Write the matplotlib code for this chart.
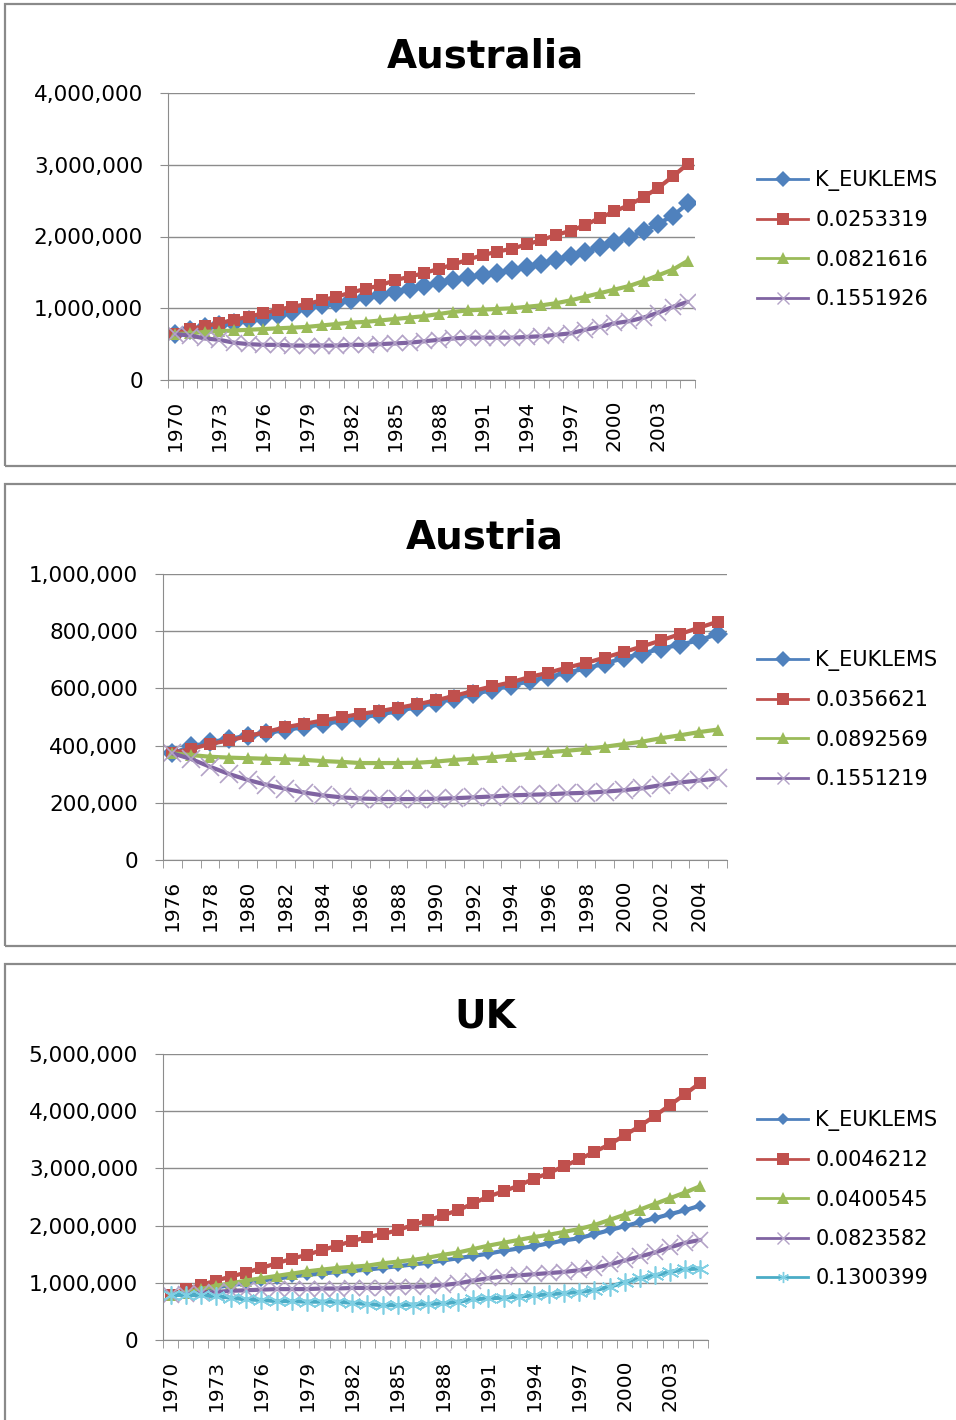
import numpy as np
import matplotlib
matplotlib.use('Agg')
import matplotlib.pyplot as plt
from matplotlib.patches import Rectangle
from matplotlib.lines import Line2D
from matplotlib.ticker import FuncFormatter

W, H = 956, 1420

# ---- data (thousands) ----
aus_years = list(range(1970, 2006))
aus_k_euklems = [640, 700, 740, 770, 800, 840, 870, 910, 950, 1000, 1040, 1070, 1110, 1160, 1190, 1230, 1270, 1310,
                 1350, 1390, 1430, 1460, 1490, 1530, 1580, 1620, 1670, 1730, 1790, 1860, 1920, 2000, 2070, 2180, 2290, 2460]
aus_0253319 = [640, 710, 750, 790, 840, 880, 930, 980, 1020, 1060, 1110, 1160, 1220, 1270, 1320, 1390, 1440, 1490,
               1550, 1610, 1680, 1740, 1790, 1830, 1890, 1950, 2020, 2080, 2160, 2260, 2350, 2440, 2550, 2680, 2840, 3010]
aus_0821616 = [640, 650, 670, 680, 690, 700, 710, 720, 730, 740, 760, 780, 800, 810, 830, 850, 870, 890,
               920, 950, 970, 980, 990, 1000, 1020, 1040, 1070, 1110, 1160, 1210, 1260, 1310, 1380, 1460, 1540, 1660]
aus_1551926 = [640, 620, 580, 560, 520, 500, 490, 490, 480, 480, 480, 480, 490, 490, 500, 510, 520, 540,
               560, 580, 590, 590, 590, 590, 600, 610, 630, 650, 700, 740, 790, 820, 870, 940, 1020, 1090]

at_years = list(range(1976, 2006))
at_k_euklems = [373, 397, 412, 423, 435, 443, 455, 464, 476, 485, 497, 509, 520, 535, 549,
                564, 579, 595, 609, 626, 640, 655, 670, 687, 706, 722, 739, 753, 768, 790]
at_0356621 = [374, 388, 406, 418, 433, 448, 464, 476, 488, 499, 511, 520, 532, 544, 558,
              574, 591, 607, 621, 640, 655, 673, 689, 708, 727, 747, 768, 790, 812, 833]
at_0892569 = [373, 367, 361, 358, 356, 354, 352, 350, 346, 343, 339, 339, 339, 340, 344,
              350, 354, 359, 365, 371, 377, 382, 388, 396, 405, 414, 426, 436, 447, 456]
at_1551219 = [373, 353, 326, 301, 280, 263, 249, 236, 226, 219, 215, 213, 213, 213, 214,
              216, 219, 222, 226, 228, 230, 233, 235, 239, 244, 251, 262, 271, 278, 285]

uk_years = list(range(1970, 2006))
uk_k_euklems = [790, 830, 870, 920, 960, 990, 1040, 1070, 1110, 1140, 1160, 1190, 1210, 1230, 1260, 1290, 1320, 1350,
                1390, 1430, 1470, 1510, 1560, 1600, 1640, 1690, 1740, 1780, 1850, 1920, 1990, 2060, 2130, 2200, 2270, 2350]
uk_0046212 = [790, 890, 960, 1040, 1110, 1180, 1260, 1340, 1420, 1490, 1570, 1650, 1730, 1800, 1850, 1920, 2010, 2090,
              2180, 2270, 2390, 2510, 2600, 2700, 2820, 2920, 3040, 3160, 3290, 3420, 3580, 3740, 3920, 4110, 4300, 4500]
uk_0400545 = [790, 830, 890, 950, 990, 1040, 1080, 1120, 1160, 1200, 1230, 1260, 1280, 1300, 1340, 1370, 1400, 1440,
              1490, 1530, 1590, 1650, 1700, 1750, 1800, 1840, 1890, 1940, 2010, 2100, 2190, 2280, 2380, 2480, 2580, 2690]
uk_0823582 = [790, 800, 820, 840, 860, 870, 880, 890, 890, 890, 900, 900, 910, 910, 910, 920, 930, 940,
              960, 990, 1040, 1080, 1110, 1130, 1150, 1170, 1190, 1220, 1260, 1320, 1390, 1460, 1530, 1620, 1700, 1750]
uk_1300399 = [790, 790, 780, 770, 740, 710, 700, 680, 680, 670, 670, 670, 650, 630, 610, 610, 620, 630,
              640, 670, 710, 730, 740, 760, 780, 800, 820, 840, 870, 930, 1010, 1080, 1130, 1190, 1240, 1250]

BLUE, RED, GREEN, PURPLE, CYAN = '#4F81BD', '#C0504D', '#9BBB59', '#8064A2', '#4BACC6'
LPURPLE, LCYAN = '#B3A2C7', '#7FCFE3'
GRID = '#8C8C8C'
STAR = (6, 2, 0)

plt.rcParams['font.family'] = 'DejaVu Sans'

fig = plt.figure(figsize=(W / 100, H / 100), dpi=100)


def px_axes(l, t, r, b):
    return fig.add_axes([l / W, 1 - b / H, (r - l) / W, (b - t) / H])


def border(t, b):
    fig.add_artist(Rectangle((5 / W, 1 - b / H), (W + 10) / W, (b - t) / H, transform=fig.transFigure,
                             fill=False, edgecolor='#8A8A8A', linewidth=1.6))


def panel(rect, btop, bbot, title, title_y, years, series, ymax, ystep, label_every, leg_top):
    border(btop, bbot)
    ax = px_axes(*rect)
    x = np.arange(len(years))
    for vals, label, color, mk, ms, mcol in series:
        ax.plot(x, np.array(vals) * 1000, color=color, lw=3, marker=mk, ms=ms,
                mfc=mcol, mec=mcol, mew=1.2 if mk in ('x', STAR) else 0, label=label, solid_capstyle='round')
    ax.set_xlim(-0.5, len(years) - 0.5)
    ax.set_ylim(0, ymax)
    ax.set_yticks(np.arange(0, ymax + 1, ystep))
    ax.yaxis.set_major_formatter(FuncFormatter(lambda v, p: f'{int(v):,}'))
    ax.grid(axis='y', color=GRID, lw=1)
    ax.set_axisbelow(True)
    idx = list(range(0, len(years), label_every))
    ax.set_xticks(idx)
    ax.set_xticklabels([str(years[i]) for i in idx], rotation=90)
    ax.set_xticks(np.arange(-0.5, len(years)), minor=True)
    ax.tick_params(axis='x', which='major', length=0, pad=14, labelsize=14.5)
    ax.tick_params(axis='x', which='minor', length=6, color=GRID, direction='out')
    ax.tick_params(axis='y', length=6, color=GRID, pad=12, labelsize=15.5)
    for s in ('top', 'right'):
        ax.spines[s].set_visible(False)
    for s in ('left', 'bottom'):
        ax.spines[s].set_color(GRID)
    fig.text(485 / W, 1 - title_y / H, title, ha='center', va='center', fontsize=28, fontweight='bold')

    handles = [Line2D([], [], color=c, lw=2, marker=mk, ms=min(ms, 8), mfc=mc, mec=mc,
                      mew=1 if mk in ('x', STAR) else 0) for _, _, c, mk, ms, mc in series]
    labels = [s[1] for s in series]
    fig.legend(handles, labels, loc='upper left', bbox_to_anchor=(757 / W, 1 - leg_top / H),
               frameon=False, fontsize=15, handlelength=2.45, handletextpad=0.35,
               labelspacing=0.93, borderpad=0, borderaxespad=0)
    return ax


panel((168, 93, 695, 380), 4, 466, 'Australia', 57, aus_years, [
    (aus_k_euklems, 'K_EUKLEMS', BLUE, 'D', 10, BLUE),
    (aus_0253319, '0.0253319', RED, 's', 9, RED),
    (aus_0821616, '0.0821616', GREEN, '^', 9, GREEN),
    (aus_1551926, '0.1551926', PURPLE, 'x', 11, LPURPLE),
], 4000000, 1000000, 3, 170)

panel((163, 574, 727, 860), 484, 946, 'Austria', 537, at_years, [
    (at_k_euklems, 'K_EUKLEMS', BLUE, 'D', 10, BLUE),
    (at_0356621, '0.0356621', RED, 's', 9, RED),
    (at_0892569, '0.0892569', GREEN, '^', 9, GREEN),
    (at_1551219, '0.1551219', PURPLE, 'x', 13, LPURPLE),
], 1000000, 200000, 2, 650)

panel((163, 1054, 708, 1340), 964, 1440, 'UK', 1016, uk_years, [
    (uk_k_euklems, 'K_EUKLEMS', BLUE, 'D', 6, BLUE),
    (uk_0046212, '0.0046212', RED, 's', 9, RED),
    (uk_0400545, '0.0400545', GREEN, '^', 9, GREEN),
    (uk_0823582, '0.0823582', PURPLE, 'x', 12, LPURPLE),
    (uk_1300399, '0.1300399', CYAN, STAR, 13, LCYAN),
], 5000000, 1000000, 3, 1110)

fig.savefig('out.png', dpi=100)
